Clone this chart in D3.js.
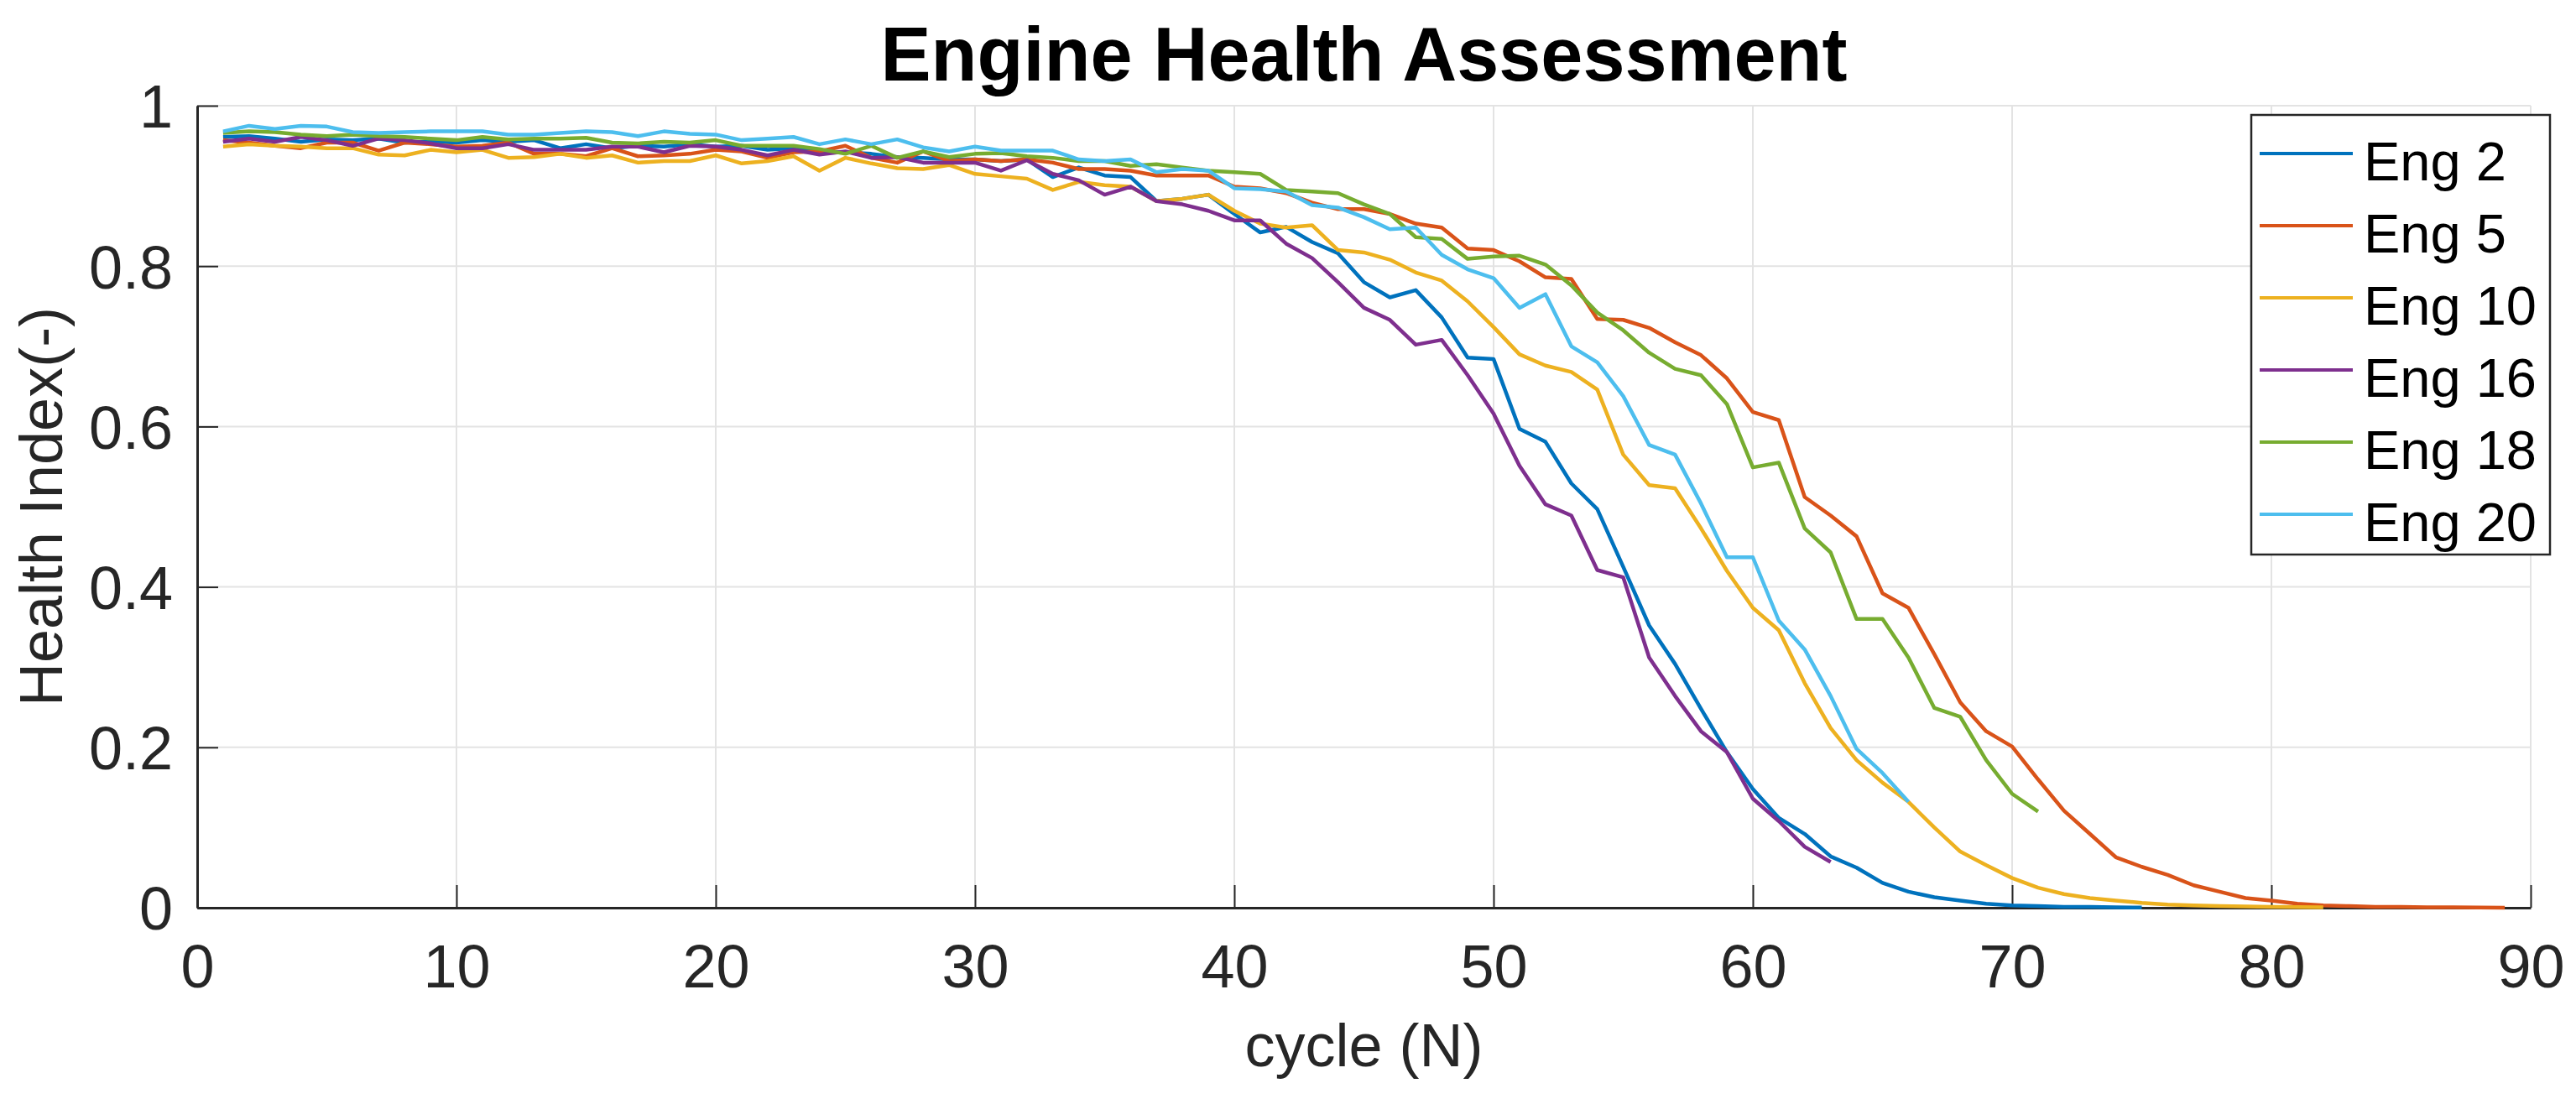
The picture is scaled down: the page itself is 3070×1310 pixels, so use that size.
<!DOCTYPE html>
<html lang="en">
  <head>
    <meta charset="utf-8">
    <title>Engine Health Assessment</title>
    <style>
      body { margin: 0; background: #ffffff; }
      svg { display: block; }
      text { font-family: "Liberation Sans", Arial, Helvetica, sans-serif; }
    </style>
  </head>
  <body>
    <div id="chart"></div>
  </body>
  <script src="https://cdnjs.cloudflare.com/ajax/libs/d3/7.8.5/d3.min.js"></script>
  <script type="text/javascript">

    // health index per cycle (cycle 1..N)
    const eng2 = [0.961, 0.962, 0.959, 0.955, 0.958, 0.957, 0.959, 0.954, 0.955, 0.954,
      0.957, 0.955, 0.957, 0.947, 0.952, 0.947, 0.950, 0.949, 0.952, 0.949,
      0.950, 0.945, 0.947, 0.943, 0.942, 0.940, 0.936, 0.935, 0.933, 0.933,
      0.931, 0.933, 0.911, 0.923, 0.913, 0.911, 0.881, 0.884, 0.889, 0.865,
      0.842, 0.849, 0.830, 0.816, 0.780, 0.761, 0.770, 0.736, 0.686, 0.684,
      0.597, 0.581, 0.529, 0.497, 0.425, 0.352, 0.304, 0.248, 0.194, 0.148,
      0.112, 0.092, 0.064, 0.050, 0.031, 0.020, 0.013, 0.009, 0.005, 0.003,
      0.002, 0.001, 0.001, 0.0005, 0.0002]

    const eng5 = [0.957, 0.954, 0.950, 0.947, 0.954, 0.954, 0.944, 0.954, 0.952, 0.949,
      0.950, 0.954, 0.940, 0.940, 0.937, 0.947, 0.937, 0.938, 0.940, 0.945,
      0.943, 0.935, 0.942, 0.943, 0.950, 0.935, 0.929, 0.943, 0.931, 0.933,
      0.931, 0.933, 0.929, 0.921, 0.921, 0.919, 0.913, 0.913, 0.913, 0.899,
      0.897, 0.891, 0.879, 0.871, 0.871, 0.865, 0.853, 0.848, 0.822, 0.820,
      0.806, 0.786, 0.784, 0.734, 0.733, 0.723, 0.705, 0.689, 0.660, 0.618,
      0.608, 0.512, 0.489, 0.463, 0.392, 0.374, 0.316, 0.256, 0.220, 0.201,
      0.160, 0.121, 0.092, 0.063, 0.051, 0.041, 0.028, 0.020, 0.012, 0.009,
      0.005, 0.003, 0.002, 0.001, 0.001, 0.0006, 0.0004, 0.0002, 0.0001]

    const eng10 = [0.949, 0.952, 0.950, 0.949, 0.947, 0.947, 0.939, 0.938, 0.945, 0.942,
      0.945, 0.935, 0.936, 0.940, 0.935, 0.938, 0.929, 0.931, 0.931, 0.938,
      0.928, 0.931, 0.937, 0.919, 0.935, 0.928, 0.922, 0.921, 0.926, 0.915,
      0.912, 0.909, 0.895, 0.905, 0.901, 0.899, 0.881, 0.884, 0.889, 0.869,
      0.853, 0.848, 0.851, 0.820, 0.817, 0.808, 0.792, 0.782, 0.756, 0.724,
      0.690, 0.676, 0.668, 0.646, 0.565, 0.527, 0.523, 0.473, 0.420, 0.374,
      0.346, 0.280, 0.224, 0.184, 0.156, 0.132, 0.100, 0.070, 0.053, 0.037,
      0.025, 0.017, 0.012, 0.009, 0.006, 0.004, 0.003, 0.002, 0.0015, 0.001,
      0.0008, 0.0005]

    const eng16 = [0.955, 0.959, 0.955, 0.961, 0.957, 0.950, 0.959, 0.957, 0.953, 0.947,
      0.947, 0.952, 0.945, 0.945, 0.945, 0.949, 0.949, 0.942, 0.950, 0.949,
      0.945, 0.938, 0.945, 0.939, 0.943, 0.935, 0.936, 0.929, 0.929, 0.929,
      0.919, 0.932, 0.915, 0.907, 0.889, 0.899, 0.881, 0.877, 0.869, 0.857,
      0.857, 0.828, 0.810, 0.780, 0.748, 0.733, 0.702, 0.708, 0.664, 0.616,
      0.551, 0.503, 0.489, 0.421, 0.412, 0.312, 0.264, 0.220, 0.194, 0.136,
      0.108, 0.076, 0.057]

    const eng18 = [0.966, 0.968, 0.967, 0.964, 0.962, 0.964, 0.962, 0.961, 0.959, 0.957,
      0.961, 0.958, 0.959, 0.959, 0.960, 0.954, 0.953, 0.955, 0.954, 0.957,
      0.950, 0.950, 0.950, 0.946, 0.940, 0.950, 0.935, 0.943, 0.936, 0.940,
      0.941, 0.937, 0.935, 0.931, 0.931, 0.925, 0.927, 0.923, 0.919, 0.917,
      0.915, 0.895, 0.893, 0.891, 0.877, 0.865, 0.836, 0.834, 0.809, 0.812,
      0.813, 0.802, 0.776, 0.742, 0.720, 0.692, 0.672, 0.664, 0.628, 0.549,
      0.555, 0.473, 0.443, 0.360, 0.360, 0.312, 0.249, 0.238, 0.184, 0.142,
      0.120]

    const eng20 = [0.968, 0.975, 0.971, 0.975, 0.974, 0.967, 0.966, 0.967, 0.968, 0.968,
      0.968, 0.964, 0.964, 0.966, 0.968, 0.967, 0.962, 0.968, 0.965, 0.964,
      0.957, 0.959, 0.961, 0.952, 0.958, 0.952, 0.958, 0.948, 0.943, 0.949,
      0.944, 0.944, 0.944, 0.933, 0.931, 0.933, 0.917, 0.921, 0.919, 0.897,
      0.896, 0.893, 0.876, 0.873, 0.861, 0.846, 0.848, 0.814, 0.796, 0.785,
      0.748, 0.765, 0.700, 0.680, 0.638, 0.577, 0.565, 0.504, 0.437, 0.437,
      0.358, 0.322, 0.264, 0.198, 0.168, 0.132]

    const seriesNames = ['Eng 2', 'Eng 5', 'Eng 10', 'Eng 16', 'Eng 18', 'Eng 20']
    const seriesValues = [eng2, eng5, eng10, eng16, eng18, eng20]
    const seriesColors = ['#0072bd', '#d95319', '#edb120', '#7e2f8e', '#77ac30', '#4dbeee']

    const xTicks = [0, 10, 20, 30, 40, 50, 60, 70, 80, 90]
    const yTicks = [0, 0.2, 0.4, 0.6, 0.8, 1]

    drawChart('chart', { width: 3070, height: 1310 })

    function drawChart(containerId, options) {
      const { width, height,
        margin = { top: 126, right: 54, bottom: 228, left: 235 },
        axisColor = '#262626',
        gridColor = '#e3e3e3',
        tickFont = 72,
        lineWidth = 4.5
      } = options

      const x = d3.scaleLinear()
        .domain([0, 90])
        .range([margin.left, width - margin.right])
      const y = d3.scaleLinear()
        .domain([0, 1])
        .range([height - margin.bottom, margin.top])

      const svg = d3.select(`#${containerId}`)
        .append('svg')
        .attr('width', width)
        .attr('height', height)

      //grid
      const grid = svg.append('g').attr('id', 'grid')
      grid.selectAll('.vgrid')
        .data(xTicks)
        .enter()
        .append('line')
        .attr('class', 'vgrid')
        .attr('x1', d => x(d)).attr('x2', d => x(d))
        .attr('y1', y(0)).attr('y2', y(1))
        .attr('stroke', gridColor)
        .attr('stroke-width', 2)
      grid.selectAll('.hgrid')
        .data(yTicks)
        .enter()
        .append('line')
        .attr('class', 'hgrid')
        .attr('x1', x(0)).attr('x2', x(90))
        .attr('y1', d => y(d)).attr('y2', d => y(d))
        .attr('stroke', gridColor)
        .attr('stroke-width', 2)

      //axes, ticks pointing inwards
      const xAxis = svg.append('g')
        .attr('transform', `translate(0, ${y(0)})`)
        .call(d3.axisBottom(x).tickValues(xTicks).tickSizeInner(-27).tickSizeOuter(0).tickPadding(44))
      const yAxis = svg.append('g')
        .attr('transform', `translate(${x(0)}, 0)`)
        .call(d3.axisLeft(y).tickValues(yTicks).tickFormat(d3.format('~g')).tickSizeInner(-25).tickSizeOuter(0).tickPadding(29))

      for (const ax of [xAxis, yAxis]) {
        ax.select('.domain').attr('stroke', axisColor).attr('stroke-width', 3)
        ax.selectAll('.tick line').attr('stroke', axisColor).attr('stroke-width', 2)
        ax.selectAll('.tick text')
          .attr('fill', axisColor)
          .style('font-size', `${tickFont}px`)
          .style('font-family', '"Liberation Sans", Arial, sans-serif')
      }
      xAxis.selectAll('.tick text').attr('dy', '0.71em')
      yAxis.selectAll('.tick text').attr('dy', '0.36em')

      //lines
      const line = d3.line()
        .x((d, i) => x(i + 1))
        .y(d => y(d))

      svg.append('g').attr('id', 'series')
        .selectAll('path')
        .data(seriesValues)
        .enter()
        .append('path')
        .attr('d', line)
        .attr('fill', 'none')
        .attr('stroke', (d, i) => seriesColors[i])
        .attr('stroke-width', lineWidth)
        .attr('stroke-linejoin', 'round')

      //labels
      svg.append('text')
        .attr('x', (x(0) + x(90)) / 2)
        .attr('y', 96)
        .attr('text-anchor', 'middle')
        .style('font-size', '90px')
        .style('font-weight', 'bold')
        .attr('fill', '#000')
        .text('Engine Health Assessment')

      svg.append('text')
        .attr('x', (x(0) + x(90)) / 2)
        .attr('y', 1271)
        .attr('text-anchor', 'middle')
        .style('font-size', `${tickFont}px`)
        .attr('fill', axisColor)
        .text('cycle (N)')

      svg.append('text')
        .attr('transform', `translate(74, ${(y(0) + y(1)) / 2}) rotate(-90)`)
        .attr('text-anchor', 'middle')
        .style('font-size', `${tickFont}px`)
        .attr('fill', axisColor)
        .text('Health Index(-)')

      // LEGEND
      const legend = svg.append('g').attr('id', 'legend')
        .attr('transform', 'translate(2683, 137)')
      const rowHeight = 86

      legend.append('rect')
        .attr('width', 356)
        .attr('height', 524)
        .attr('fill', '#fff')
        .attr('stroke', axisColor)
        .attr('stroke-width', 2.5)

      const rows = legend.selectAll('.legend-row')
        .data(seriesNames)
        .enter()
        .append('g')
        .attr('class', 'legend-row')
        .attr('transform', (d, i) => `translate(0, ${46 + i * rowHeight})`)

      rows.append('line')
        .attr('x1', 10).attr('x2', 121)
        .attr('stroke', (d, i) => seriesColors[i])
        .attr('stroke-width', 4)

      rows.append('text')
        .attr('x', 134)
        .attr('y', 32)
        .style('font-size', '65px')
        .attr('fill', '#000')
        .text(d => d)
    }

  </script>
</html>
